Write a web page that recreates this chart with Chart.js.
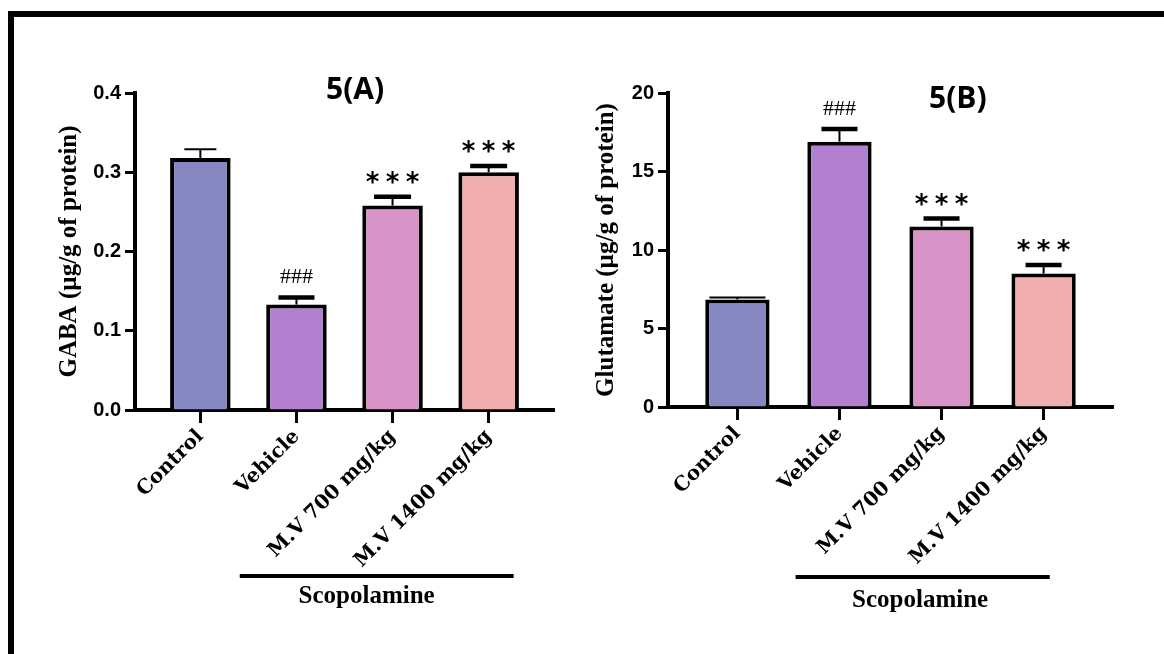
<!DOCTYPE html>
<html>
<head>
<meta charset="utf-8">
<title>GABA and Glutamate</title>
<script src="https://cdn.jsdelivr.net/npm/chart.js@4.4.1/dist/chart.umd.min.js"></script>
<style>
  body { margin: 0; background: #fff; }
  #page { position: relative; width: 1164px; height: 654px; overflow: hidden; background: #fff; }
  #frame { position: absolute; left: 8px; top: 11px; width: 1300px; height: 800px;
           border-top: 6px solid #000; border-left: 6px solid #000; }
  .panel { position: absolute; top: 0; width: 582px; height: 654px; }
</style>
</head>
<body>
<div id="page">
  <div id="frame"></div>
  <div class="panel" style="left:0"><canvas id="gabaChart"></canvas></div>
  <div class="panel" style="left:582px"><canvas id="gluChart"></canvas></div>
</div>
<script>
// groups, same for both panels
const categories = ['Control', 'Vehicle', 'M.V 700 mg/kg', 'M.V 1400 mg/kg'];
const barColors = ['#8587c0', '#b27fd1', '#d894c6', '#f0aeae'];

// 5(A) GABA
const gabaMean = [0.318, 0.133, 0.258, 0.300];
const gabaSem = [0.011, 0.009, 0.011, 0.008];
const gabaMarks = ['', '###', '***', '***'];
const gabaTicks = [0, 0.1, 0.2, 0.3, 0.4];

// 5(B) Glutamate
const gluMean = [6.85, 16.9, 11.5, 8.5];
const gluSem = [0.12, 0.8, 0.5, 0.55];
const gluMarks = ['', '###', '***', '***'];
const gluTicks = [0, 5, 10, 15, 20];

Chart.defaults.animation = false;
Chart.defaults.color = '#000';

const panelDecor = {
  id: 'panelDecor',
  afterDatasetsDraw(chart, args, opts) {
    const ctx = chart.ctx;
    const y = chart.scales.y;
    const meta = chart.getDatasetMeta(0);
    ctx.save();
    ctx.strokeStyle = '#000';
    ctx.fillStyle = '#000';
    meta.data.forEach((bar, i) => {
      const top = y.getPixelForValue(opts.mean[i] + opts.sem[i]);
      const half = opts.capWidth[i] / 2;
      // stem + cap
      ctx.lineWidth = 2;
      ctx.beginPath(); ctx.moveTo(bar.x, bar.y); ctx.lineTo(bar.x, top); ctx.stroke();
      ctx.lineWidth = opts.capLine[i];
      ctx.beginPath(); ctx.moveTo(bar.x - half, top); ctx.lineTo(bar.x + half, top); ctx.stroke();
      // significance marks
      const mark = opts.marks[i];
      ctx.textAlign = 'center';
      ctx.textBaseline = 'alphabetic';
      if (mark === '###') {
        ctx.font = '22px "Liberation Serif"';
        ctx.fillText(mark, bar.x, top - 14);
      } else if (mark) {
        ctx.font = 'bold 26px "DejaVu Sans"';
        [-20, 0, 20].forEach(dx => ctx.fillText('*', bar.x + dx, top - 6));
      }
    });
    ctx.restore();
  },
  afterDraw(chart, args, opts) {
    const ctx = chart.ctx;
    const x = chart.scales.x;
    ctx.save();
    ctx.fillStyle = '#000';
    ctx.strokeStyle = '#000';
    // panel title
    ctx.font = 'bold 30px "Open Sans"';
    ctx.textAlign = 'center';
    ctx.textBaseline = 'middle';
    ctx.fillText(opts.title, x.getPixelForValue(opts.titleAt), opts.titleY);
    // scopolamine bracket
    ctx.lineWidth = 4;
    ctx.beginPath();
    ctx.moveTo(x.getPixelForValue(opts.groupFrom), opts.groupY);
    ctx.lineTo(x.getPixelForValue(opts.groupTo), opts.groupY);
    ctx.stroke();
    ctx.font = 'bold 25px "Liberation Serif"';
    ctx.fillText(opts.groupLabel, x.getPixelForValue(opts.groupLabelAt), opts.groupLabelY);
    ctx.restore();
  }
};

function makePanel(id, cfg) {
  const ctx = document.getElementById(id).getContext('2d');
  return new Chart(ctx, {
    type: 'bar',
    data: {
      datasets: [{
        data: cfg.mean.map((v, i) => ({ x: i, y: v })),
        backgroundColor: barColors,
        borderColor: '#000',
        borderWidth: 4,
        barPercentage: 0.63,
        categoryPercentage: 1
      }]
    },
    options: {
      responsive: true,
      maintainAspectRatio: false,
      layout: { padding: cfg.padding },
      plugins: {
        legend: { display: false },
        tooltip: { enabled: false },
        panelDecor: {
          mean: cfg.mean, sem: cfg.sem, marks: cfg.marks,
          capWidth: cfg.capWidth, capLine: cfg.capLine,
          title: cfg.title, titleAt: cfg.titleAt, titleY: cfg.titleY,
          groupFrom: cfg.groupFrom, groupTo: cfg.groupTo, groupY: cfg.groupY,
          groupLabel: 'Scopolamine', groupLabelAt: cfg.groupLabelAt, groupLabelY: cfg.groupLabelY
        }
      },
      scales: {
        x: {
          type: 'linear',
          offset: false,
          min: -0.68,
          max: 3.68,
          afterBuildTicks: s => { s.ticks = categories.map((c, i) => ({ value: i })); },
          afterFit: s => { s.height = cfg.xHeight; },
          grid: { display: true, offset: false, drawOnChartArea: false, drawTicks: true, tickLength: 13, tickWidth: 3, color: '#000' },
          border: { display: true, width: 4, color: '#000' },
          ticks: {
            autoSkip: false,
            minRotation: 45,
            maxRotation: 45,
            padding: 2,
            color: '#000',
            font: { family: '"DejaVu Serif"', weight: 'bold', size: 20 },
            callback: v => categories[v]
          }
        },
        y: {
          min: cfg.ticks[0],
          max: cfg.ticks[cfg.ticks.length - 1],
          afterBuildTicks: s => { s.ticks = cfg.ticks.map(v => ({ value: v })); },
          afterFit: s => { s.width = cfg.yWidth; },
          grid: { display: true, drawOnChartArea: false, drawTicks: true, tickLength: 10, tickWidth: 3, color: '#000' },
          border: { display: true, width: 4, color: '#000' },
          ticks: {
            padding: 4,
            color: '#000',
            font: { family: '"Liberation Sans"', weight: 'bold', size: 20 },
            callback: v => v.toFixed(cfg.decimals)
          },
          title: {
            display: true,
            text: cfg.yTitle,
            color: '#000',
            padding: 0,
            font: { family: '"Liberation Serif"', weight: 'bold', size: 25 }
          }
        }
      }
    },
    plugins: [panelDecor]
  });
}

makePanel('gabaChart', {
  mean: gabaMean, sem: gabaSem, marks: gabaMarks, ticks: gabaTicks, decimals: 1,
  yTitle: 'GABA (µg/g of protein)',
  padding: { left: 55, top: 93, right: 28, bottom: 0 },
  yWidth: 80, xHeight: 244,
  capWidth: [32, 36, 37, 37], capLine: [2, 4.5, 4.5, 4.5],
  title: '5(A)', titleAt: 1.61, titleY: 90,
  groupFrom: 0.41, groupTo: 3.26, groupY: 576, groupLabelAt: 1.73, groupLabelY: 597
});

makePanel('gluChart', {
  mean: gluMean, sem: gluSem, marks: gluMarks, ticks: gluTicks, decimals: 0,
  yTitle: 'Glutamate (µg/g of protein)',
  padding: { left: 10, top: 93, right: 51, bottom: 0 },
  yWidth: 76, xHeight: 247,
  capWidth: [56, 36, 36, 36], capLine: [2, 4.5, 4.5, 4.5],
  title: '5(B)', titleAt: 2.16, titleY: 99,
  groupFrom: 0.57, groupTo: 3.06, groupY: 577, groupLabelAt: 1.79, groupLabelY: 601
});
</script>
</body>
</html>
